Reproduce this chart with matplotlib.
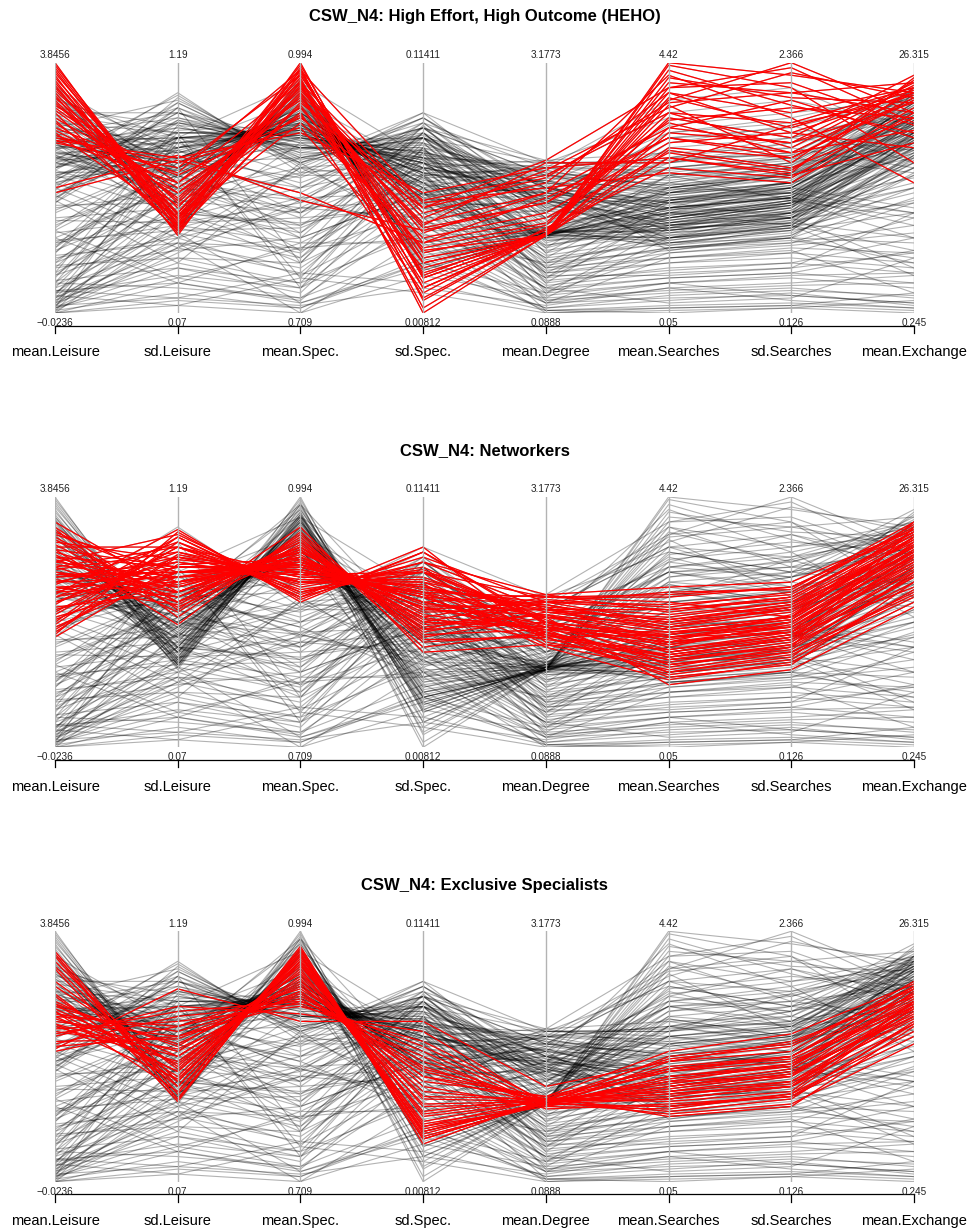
import matplotlib
matplotlib.use("Agg")
import matplotlib.pyplot as plt

plt.rcParams["font.family"] = ["Liberation Sans", "DejaVu Sans"]

# Variables shown on the parallel axes
variables = ["mean.Leisure", "sd.Leisure", "mean.Spec.", "sd.Spec.",
             "mean.Degree", "mean.Searches", "sd.Searches", "mean.Exchange"]
axis_max = ["3.8456", "1.19", "0.994", "0.11411", "3.1773", "4.42", "2.366", "26.315"]
axis_min = ["\u22120.0236", "0.07", "0.709", "0.00812", "0.0888", "0.05", "0.126", "0.245"]

# Scaled scores (percent of each variable's range), one row per simulation run
heho = [
    [100, 33, 100, 10, 31, 100, 95, 88],
    [97, 35, 98, 5, 32, 92, 88, 92],
    [95, 31, 96, 20, 31, 85, 100, 80],
    [92, 38, 99, 15, 33, 78, 70, 95],
    [90, 42, 94, 0, 31, 97, 83, 72],
    [88, 36, 92, 28, 46, 70, 62, 85],
    [86, 45, 90, 40, 52, 88, 80, 90],
    [84, 40, 88, 12, 31, 65, 58, 78],
    [82, 48, 86, 35, 60, 60, 75, 87],
    [80, 33, 84, 45, 55, 80, 66, 91],
    [78, 50, 82, 25, 31, 74, 85, 70],
    [76, 43, 80, 8, 34, 58, 54, 82],
    [74, 55, 78, 42, 61, 90, 92, 75],
    [72, 38, 76, 30, 40, 68, 72, 88],
    [70, 60, 74, 18, 31, 83, 60, 93],
    [69, 62, 72, 48, 58, 62, 55, 68],
    [69, 52, 85, 36, 48, 95, 78, 52],
    [68, 58, 95, 22, 31, 72, 68, 84],
    [93, 34, 97, 44, 50, 56, 52, 80],
    [99, 37, 93, 6, 32, 86, 74, 89],
    [50, 63, 45, 33, 44, 76, 64, 73],
    [48, 61, 48, 28, 38, 64, 57, 90],
    [87, 32, 91, 16, 31, 99, 90, 60],
    [81, 46, 89, 38, 57, 82, 96, 86],
    [98, 36, 97, 14, 31, 94, 86, 84],
    [94, 40, 95, 24, 35, 80, 76, 90],
    [91, 34, 92, 2, 31, 90, 98, 76],
    [89, 44, 90, 32, 48, 74, 68, 92],
    [85, 38, 87, 10, 32, 66, 62, 86],
    [83, 52, 92, 42, 54, 84, 88, 80],
    [77, 35, 83, 20, 31, 62, 56, 94],
    [73, 48, 79, 26, 36, 77, 82, 78],
    [71, 56, 97, 14, 31, 88, 72, 66],
    [96, 39, 88, 34, 44, 70, 64, 88],
]

networkers = [
    [90, 62, 80, 50, 48, 42, 46, 82],
    [87, 52, 85, 42, 45, 35, 40, 88],
    [85, 70, 74, 62, 52, 50, 55, 78],
    [84, 58, 83, 45, 47, 30, 36, 70],
    [82, 75, 70, 64, 55, 55, 60, 86],
    [81, 56, 78, 55, 58, 62, 63, 90],
    [80, 80, 66, 70, 50, 44, 48, 74],
    [78, 64, 76, 52, 60, 58, 52, 84],
    [77, 54, 84, 40, 46, 28, 33, 66],
    [76, 72, 72, 60, 57, 48, 56, 80],
    [75, 60, 79, 48, 53, 40, 50, 76],
    [74, 85, 62, 74, 61, 64, 66, 87],
    [73, 66, 75, 58, 49, 36, 42, 72],
    [72, 58, 80, 46, 54, 52, 58, 82],
    [71, 78, 68, 68, 51, 33, 38, 62],
    [70, 62, 77, 50, 59, 56, 62, 88],
    [69, 70, 73, 56, 47, 46, 48, 78],
    [68, 74, 66, 66, 56, 42, 53, 84],
    [67, 60, 82, 44, 52, 25, 31, 56],
    [66, 68, 70, 62, 60, 60, 64, 86],
    [65, 82, 64, 72, 50, 38, 45, 74],
    [64, 57, 81, 47, 58, 50, 57, 80],
    [63, 72, 71, 60, 45, 32, 40, 68],
    [62, 65, 76, 54, 55, 47, 52, 90],
    [61, 87, 58, 78, 49, 43, 50, 76],
    [60, 70, 74, 58, 61, 54, 60, 85],
    [58, 76, 66, 65, 46, 36, 44, 70],
    [56, 62, 79, 49, 53, 41, 49, 79],
    [54, 80, 62, 70, 44, 30, 37, 60],
    [52, 66, 73, 56, 57, 49, 55, 83],
    [50, 84, 60, 80, 42, 34, 41, 66],
    [48, 70, 71, 61, 40, 27, 34, 58],
    [46, 77, 68, 66, 48, 44, 46, 72],
    [44, 73, 75, 52, 43, 39, 45, 64],
    [88, 55, 88, 38, 41, 37, 43, 76],
    [79, 49, 86, 43, 44, 45, 51, 81],
    [86, 66, 78, 55, 53, 47, 52, 84],
    [83, 58, 82, 47, 50, 38, 44, 77],
    [79, 72, 73, 63, 58, 57, 61, 89],
    [76, 62, 80, 51, 48, 33, 39, 69],
    [74, 68, 76, 57, 55, 51, 56, 83],
    [72, 80, 69, 70, 60, 61, 64, 87],
    [70, 64, 78, 53, 47, 41, 47, 75],
    [68, 70, 72, 61, 52, 44, 50, 79],
    [66, 76, 70, 64, 56, 53, 58, 85],
    [64, 66, 74, 56, 46, 35, 41, 71],
    [62, 74, 67, 67, 54, 48, 54, 81],
    [60, 78, 65, 71, 50, 39, 46, 73],
    [58, 72, 71, 60, 44, 29, 35, 63],
    [57, 84, 61, 76, 58, 55, 59, 86],
    [55, 68, 73, 58, 48, 42, 48, 77],
    [53, 80, 63, 70, 52, 46, 51, 80],
    [51, 70, 69, 62, 45, 37, 43, 68],
    [49, 82, 60, 74, 55, 51, 57, 84],
    [47, 76, 66, 65, 41, 31, 38, 61],
    [45, 86, 59, 78, 50, 45, 52, 78],
]

specialists = [
    [92, 35, 92, 18, 31, 30, 35, 70],
    [88, 40, 88, 26, 32, 40, 42, 76],
    [85, 32, 94, 15, 33, 28, 33, 64],
    [80, 45, 86, 30, 31, 45, 50, 78],
    [75, 38, 90, 20, 32, 35, 38, 68],
    [72, 50, 80, 38, 30, 48, 52, 80],
    [71, 42, 89, 22, 33, 32, 36, 72],
    [70, 55, 78, 42, 31, 42, 47, 74],
    [69, 47, 84, 28, 34, 26, 30, 62],
    [68, 36, 91, 17, 32, 38, 44, 66],
    [67, 60, 74, 48, 31, 50, 55, 77],
    [66, 44, 85, 24, 33, 44, 48, 70],
    [65, 52, 79, 36, 32, 34, 40, 65],
    [64, 58, 72, 52, 30, 29, 35, 60],
    [63, 41, 87, 21, 31, 41, 46, 73],
    [62, 48, 82, 34, 33, 46, 50, 75],
    [61, 64, 70, 56, 32, 36, 42, 69],
    [60, 53, 76, 40, 34, 52, 59, 79],
    [58, 70, 67, 60, 31, 33, 38, 63],
    [56, 57, 75, 44, 32, 39, 45, 71],
    [55, 66, 71, 50, 29, 31, 34, 58],
    [53, 77, 64, 64, 38, 48, 56, 74],
    [52, 62, 73, 46, 31, 37, 43, 67],
    [90, 33, 93, 19, 32, 27, 31, 55],
    [91, 33, 93, 17, 32, 33, 38, 72],
    [86, 38, 90, 23, 31, 42, 46, 77],
    [78, 46, 87, 27, 33, 36, 40, 69],
    [74, 40, 91, 20, 31, 30, 34, 63],
    [71, 54, 83, 33, 32, 44, 50, 75],
    [68, 44, 88, 22, 30, 38, 43, 70],
    [66, 62, 77, 45, 33, 49, 54, 78],
    [63, 50, 81, 31, 32, 35, 39, 66],
    [59, 68, 72, 54, 31, 40, 47, 72],
    [54, 58, 76, 42, 34, 45, 49, 71],
]

other_runs = [
    [0, 3, 0, 30, 0, 2, 3, 1],
    [1, 8, 2, 20, 2, 5, 8, 3],
    [0, 12, 5, 45, 1, 0, 2, 0],
    [2, 18, 8, 55, 5, 8, 10, 6],
    [3, 6, 3, 10, 3, 10, 12, 15],
    [5, 22, 12, 62, 8, 12, 14, 10],
    [8, 15, 10, 35, 10, 4, 6, 22],
    [10, 28, 18, 50, 12, 18, 20, 30],
    [12, 10, 6, 25, 4, 22, 25, 8],
    [15, 32, 22, 58, 15, 15, 18, 40],
    [18, 25, 30, 48, 18, 26, 28, 35],
    [20, 40, 35, 65, 20, 30, 34, 45],
    [22, 30, 15, 40, 14, 20, 22, 18],
    [25, 45, 40, 70, 24, 35, 38, 55],
    [28, 35, 28, 52, 22, 28, 30, 28],
    [30, 50, 45, 68, 28, 40, 44, 60],
    [32, 38, 50, 60, 30, 34, 36, 48],
    [35, 55, 38, 72, 34, 45, 48, 65],
    [38, 42, 55, 55, 26, 38, 45, 38],
    [40, 60, 48, 74, 38, 50, 55, 70],
    [42, 48, 58, 62, 36, 42, 40, 52],
    [45, 20, 60, 30, 20, 25, 30, 20],
    [48, 65, 52, 70, 42, 58, 62, 75],
    [50, 30, 42, 45, 25, 32, 35, 25],
    [6, 52, 25, 75, 30, 55, 60, 72],
    [3, 40, 20, 66, 18, 45, 52, 62],
    [10, 58, 32, 72, 35, 62, 68, 80],
    [14, 65, 44, 76, 40, 70, 72, 78],
    [2, 70, 55, 78, 45, 75, 80, 85],
    [8, 45, 62, 58, 50, 65, 58, 68],
    [0, 35, 68, 50, 22, 48, 50, 42],
    [16, 75, 60, 74, 55, 80, 85, 75],
    [24, 62, 66, 68, 48, 60, 66, 58],
    [36, 55, 70, 60, 44, 52, 46, 35],
    [55, 40, 25, 40, 10, 14, 16, 12],
    [60, 50, 35, 55, 16, 20, 24, 20],
    [4, 28, 0, 15, 6, 30, 40, 50],
    [7, 3, 14, 8, 0, 1, 2, 5],
    [26, 72, 10, 64, 12, 40, 35, 15],
    [44, 82, 20, 70, 26, 55, 45, 30],
    [12, 50, 80, 46, 40, 62, 70, 82],
    [20, 56, 75, 52, 35, 68, 75, 60],
    [34, 66, 85, 58, 52, 72, 78, 88],
    [46, 70, 92, 62, 58, 85, 90, 70],
    [1, 24, 45, 35, 8, 24, 28, 44],
    [5, 36, 38, 42, 14, 35, 42, 90],
    [58, 88, 56, 80, 60, 78, 70, 65],
    [30, 12, 28, 28, 4, 10, 5, 2],
    [0, 5, 2, 22, 1, 3, 4, 2],
    [2, 14, 6, 38, 4, 6, 7, 4],
    [4, 20, 10, 48, 6, 9, 11, 12],
    [6, 26, 16, 56, 9, 14, 16, 25],
    [9, 12, 4, 18, 2, 7, 9, 7],
    [11, 34, 24, 60, 16, 22, 24, 38],
    [13, 18, 12, 32, 7, 12, 15, 16],
    [16, 42, 32, 64, 21, 28, 32, 50],
    [19, 22, 20, 44, 11, 16, 18, 24],
    [21, 48, 42, 66, 27, 36, 40, 58],
    [23, 28, 26, 50, 17, 24, 27, 32],
    [27, 52, 46, 70, 31, 42, 46, 64],
    [29, 33, 34, 54, 23, 30, 33, 40],
    [33, 58, 50, 72, 37, 48, 52, 68],
    [37, 36, 44, 58, 29, 33, 37, 44],
    [41, 62, 54, 74, 41, 54, 58, 72],
    [43, 44, 56, 60, 33, 40, 38, 50],
    [47, 26, 58, 36, 19, 26, 29, 22],
    [52, 34, 46, 48, 27, 34, 36, 30],
    [1, 46, 22, 68, 24, 50, 56, 66],
    [4, 55, 30, 72, 33, 58, 63, 76],
    [7, 62, 40, 74, 38, 66, 70, 80],
    [12, 68, 50, 76, 43, 72, 76, 84],
    [3, 30, 58, 52, 20, 42, 46, 40],
    [18, 60, 62, 70, 46, 58, 62, 56],
    [28, 52, 66, 62, 42, 50, 48, 40],
    [57, 44, 30, 48, 13, 17, 20, 16],
    [62, 55, 40, 58, 18, 22, 26, 24],
    [6, 32, 4, 20, 8, 34, 44, 54],
    [9, 6, 16, 12, 1, 2, 3, 8],
    [24, 70, 14, 66, 14, 44, 38, 18],
    [15, 48, 78, 48, 38, 60, 68, 78],
    [26, 60, 82, 56, 48, 70, 74, 86],
    [2, 26, 42, 38, 10, 26, 30, 46],
    [8, 40, 36, 44, 16, 38, 44, 88],
    [33, 14, 26, 30, 5, 12, 7, 4],
]

clusters = {
    "High Effort, High Outcome (HEHO)": heho,
    "Networkers": networkers,
    "Exclusive Specialists": specialists,
}
all_runs = heho + networkers + specialists + other_runs

W, H = 971, 1232
fig = plt.figure(figsize=(W / 100, H / 100), dpi=100)

x_left, x_right = 55, 914
panel_top, panel_bottom = 62.7, 313.0
panel_step = 434.3
xs = list(range(len(variables)))

for k, (name, members) in enumerate(clusters.items()):
    off = k * panel_step
    top = panel_top + off
    bottom = panel_bottom + off
    ax = fig.add_axes([x_left / W, 1 - bottom / H,
                       (x_right - x_left) / W, (bottom - top) / H])
    ax.set_xlim(0, len(variables) - 1)
    ax.set_ylim(0, 100)
    ax.axis("off")
    px = 100 / (bottom - top)  # data units per pixel

    for row in all_runs:
        ax.plot(xs, row, color="black", alpha=0.3, lw=0.8, zorder=1)
    for row in members:
        ax.plot(xs, row, color="#FF0000", lw=0.9, zorder=2)

    for i in xs:
        ax.plot([i, i], [0, 100], color="#B3B3B3", lw=1.0, zorder=3)
        ax.text(i, 100 + 7.7 * px, axis_max[i], ha="center", va="center",
                fontsize=7.2, color="#222222", clip_on=False)
        ax.text(i, -10 * px, axis_min[i], ha="center", va="center",
                fontsize=7.2, color="#222222", clip_on=False)
        ax.plot([i, i], [-12.7 * px, -20 * px], color="black", lw=0.9,
                clip_on=False)
        ax.text(i, -39.5 * px, variables[i], ha="center", va="center",
                fontsize=10.5, clip_on=False)
    ax.plot([0, len(variables) - 1], [-12.7 * px, -12.7 * px], color="black",
            lw=0.9, clip_on=False)
    ax.text((len(variables) - 1) / 2, 100 + 46 * px, "CSW_N4: " + name,
            ha="center", va="center", fontsize=12, fontweight="bold",
            clip_on=False)

fig.savefig("out.png", dpi=100)
